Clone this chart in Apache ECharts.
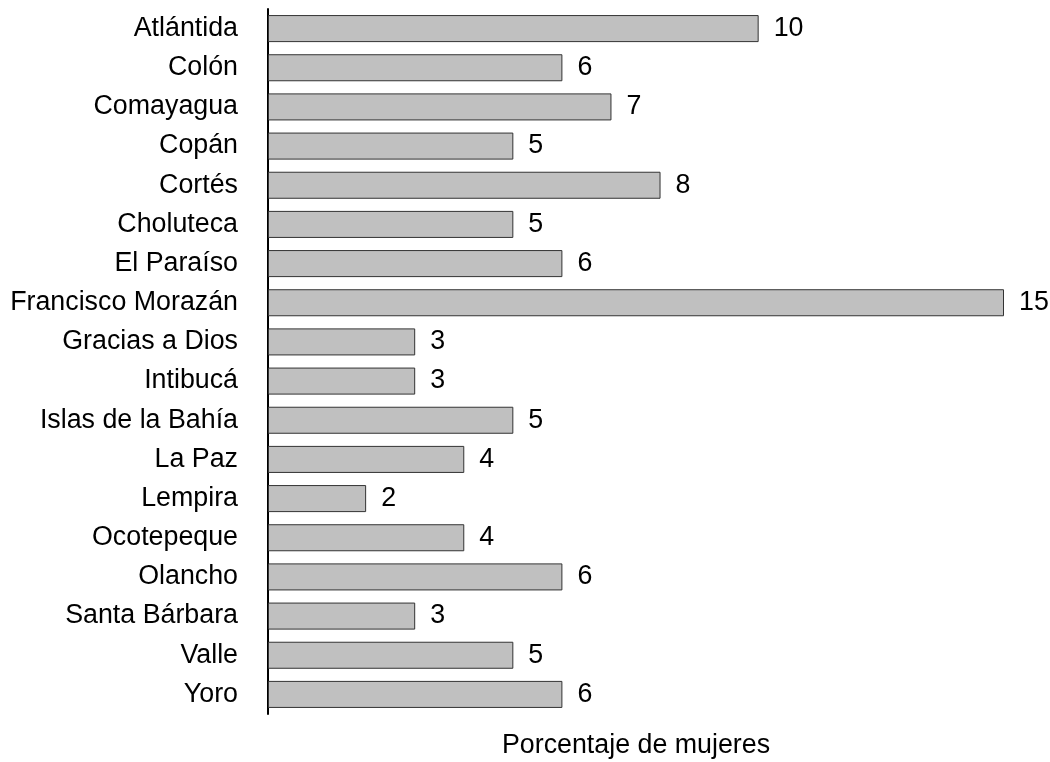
<!DOCTYPE html>
<html>
<head>
<meta charset="utf-8">
<script src="https://cdn.jsdelivr.net/npm/echarts@6/dist/echarts.min.js"></script>
<style>
  html, body { margin: 0; padding: 0; background: #fff; }
  #chart { width: 1050px; height: 762px; }
</style>
</head>
<body>
<div id="chart"></div>
<script>
// departamentos, de arriba hacia abajo
const departamentos = [
  'Atlántida', 'Colón', 'Comayagua', 'Copán', 'Cortés', 'Choluteca',
  'El Paraíso', 'Francisco Morazán', 'Gracias a Dios', 'Intibucá',
  'Islas de la Bahía', 'La Paz', 'Lempira', 'Ocotepeque', 'Olancho',
  'Santa Bárbara', 'Valle', 'Yoro'
];
const porcentajes = [10, 6, 7, 5, 8, 5, 6, 15, 3, 3, 5, 4, 2, 4, 6, 3, 5, 6];
const ejeNombre = 'Porcentaje de mujeres';

const chart = echarts.init(document.getElementById('chart'));
const font = 'Liberation Sans, Arial, sans-serif';
const fs = 26.8;

chart.setOption({
  animation: false,
  grid: {
    left: 268,
    right: 46,
    top: 9,
    bottom: 48,
    containLabel: false,
    outerBoundsMode: 'none'
  },
  xAxis: {
    type: 'value',
    min: 0,
    max: 15,
    name: ejeNombre,
    nameLocation: 'middle',
    nameGap: 18,
    nameTextStyle: { fontFamily: font, fontSize: fs, color: '#000' },
    axisLine: { show: false },
    axisTick: { show: false },
    axisLabel: { show: false },
    splitLine: { show: false }
  },
  yAxis: {
    type: 'category',
    inverse: true,
    data: departamentos,
    axisLine: { show: true, lineStyle: { color: '#000', width: 2 } },
    axisTick: { show: false },
    axisLabel: {
      fontFamily: font,
      fontSize: fs,
      color: '#000',
      margin: 30
    }
  },
  series: [{
    type: 'bar',
    data: porcentajes,
    barCategoryGap: '31%',
    itemStyle: {
      color: '#c0c0c0',
      borderColor: '#333',
      borderWidth: 1
    },
    label: {
      show: true,
      position: 'right',
      distance: 15,
      fontFamily: font,
      fontSize: fs,
      color: '#000'
    }
  }]
});
</script>
</body>
</html>
